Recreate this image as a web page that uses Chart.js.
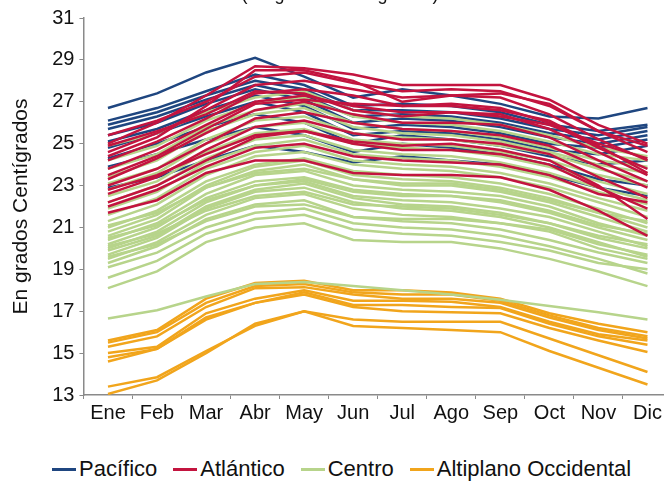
<!DOCTYPE html>
<html>
<head>
<meta charset="utf-8">
<script src="https://cdn.jsdelivr.net/npm/chart.js@4/dist/chart.umd.min.js"></script>
<style>
  html, body { margin: 0; padding: 0; background: #fff; }
  #page { position: relative; width: 664px; height: 482px; overflow: hidden; font-family: "Liberation Sans", Arial, sans-serif; }
  #subtitle { position: absolute; left: 140px; width: 400px; top: -15px; text-align: center; font-size: 18px; line-height: 18px; color: #111; }
  #chart-box { position: absolute; left: 0; top: 0; width: 672px; height: 440px; }
  #legend { position: absolute; left: 52px; top: 456px; display: flex; gap: 16px; font-size: 22px; line-height: 26px; color: #111; }
  #legend .item { display: flex; align-items: center; }
  #legend .swatch { width: 24px; height: 3px; margin-right: 3px; }
</style>
</head>
<body>
<div id="page">
  <div id="chart-box"><canvas id="temp-chart"></canvas></div>
  <div id="subtitle">(En grados Centígrados)</div>
  <div id="legend"></div>
</div>
<script>
const months = ['Ene', 'Feb', 'Mar', 'Abr', 'May', 'Jun', 'Jul', 'Ago', 'Sep', 'Oct', 'Nov', 'Dic'];

// monthly mean temperature per station, grouped by region
const pacifico = [
  [26.7, 27.4, 28.4, 29.1, 28.2, 27.2, 27.6, 27.3, 26.9, 26.3, 26.2, 26.7],
  [26.1, 26.7, 27.5, 28.3, 27.8, 26.8, 26.9, 26.8, 26.5, 25.9, 25.6, 25.9],
  [25.9, 26.5, 27.3, 28.0, 27.6, 26.6, 26.6, 26.5, 26.2, 25.7, 25.4, 25.8],
  [25.7, 26.3, 27.1, 27.8, 27.3, 26.3, 26.4, 26.3, 26.0, 25.5, 25.2, 25.6],
  [25.4, 26.0, 26.9, 27.6, 27.1, 26.0, 26.2, 26.1, 25.8, 25.3, 25.0, 25.4],
  [25.1, 25.7, 26.6, 27.3, 26.8, 25.7, 25.9, 25.8, 25.5, 25.0, 24.8, 25.2],
  [24.8, 25.5, 26.3, 27.0, 26.5, 25.4, 25.6, 25.5, 25.2, 24.7, 24.5, 24.9],
  [24.3, 25.0, 25.8, 26.4, 26.0, 25.0, 25.4, 25.2, 24.9, 24.4, 24.0, 24.2],
  [23.9, 24.5, 25.2, 25.8, 25.4, 24.6, 25.0, 24.8, 24.5, 24.0, 23.3, 23.0],
  [22.9, 23.4, 24.2, 24.9, 24.6, 24.1, 24.4, 24.2, 24.0, 23.5, 22.9, 22.5]
];

const atlantico = [
  [25.0, 26.0, 27.3, 28.7, 28.6, 28.3, 27.8, 27.8, 27.8, 27.1, 25.9, 25.0],
  [25.4, 26.1, 27.0, 28.2, 28.4, 27.9, 27.5, 27.6, 27.5, 26.8, 25.6, 24.6],
  [24.6, 25.5, 26.6, 27.8, 28.0, 27.6, 27.2, 27.3, 27.2, 26.4, 25.2, 24.2],
  [24.2, 25.1, 26.2, 27.4, 27.6, 27.3, 26.8, 26.9, 26.7, 26.0, 24.8, 23.8],
  [23.8, 24.7, 25.9, 27.0, 27.3, 26.8, 26.5, 26.5, 26.4, 25.7, 24.6, 23.5],
  [23.3, 24.3, 25.5, 26.6, 27.0, 26.4, 26.0, 26.0, 25.9, 25.3, 24.2, 23.2],
  [23.0, 23.8, 25.0, 26.2, 26.5, 26.0, 25.7, 25.6, 25.4, 24.9, 23.9, 22.9],
  [22.6, 23.4, 24.7, 25.8, 26.1, 25.5, 25.2, 25.2, 25.0, 24.5, 23.4, 22.4],
  [22.2, 23.0, 24.2, 25.3, 25.6, 25.0, 24.7, 24.7, 24.5, 24.0, 22.9, 21.9],
  [21.7, 22.3, 23.6, 24.2, 24.2, 23.6, 23.5, 23.5, 23.4, 22.8, 21.8, 20.6],
  [24.9, 25.6, 26.4, 27.5, 27.4, 26.6, 26.3, 26.5, 26.3, 25.9, 25.0, 24.3],
  [23.5, 24.4, 25.7, 26.9, 27.1, 26.9, 26.8, 26.8, 26.6, 26.1, 24.9, 23.6],
  [22.8, 23.5, 24.5, 25.4, 25.6, 25.1, 24.9, 25.0, 24.7, 24.2, 23.0, 21.4],
  [22.0, 22.8, 23.9, 24.8, 25.0, 24.4, 24.2, 24.1, 24.0, 23.5, 22.6, 22.2],
  [24.4, 25.3, 26.8, 28.5, 28.5, 28.0, 27.0, 27.3, 27.4, 26.9, 25.6, 24.9]
];

const centro = [
  [18.1, 18.9, 20.3, 21.0, 21.2, 20.4, 20.3, 20.3, 20.0, 19.5, 18.9, 18.2],
  [18.6, 19.4, 20.7, 21.4, 21.6, 20.9, 20.7, 20.6, 20.3, 19.9, 19.3, 19.0],
  [19.1, 19.8, 21.0, 21.7, 21.9, 21.2, 21.0, 20.9, 20.6, 20.1, 19.5, 18.8],
  [19.3, 20.1, 21.4, 22.1, 22.3, 21.5, 21.3, 21.2, 20.9, 20.4, 19.8, 19.3],
  [19.5, 20.3, 21.6, 22.4, 22.6, 21.9, 21.6, 21.5, 21.2, 20.8, 20.0, 19.5],
  [19.6, 20.2, 21.3, 22.0, 22.1, 21.5, 21.4, 21.4, 21.2, 20.9, 20.2, 19.7],
  [19.7, 20.5, 21.9, 22.7, 22.9, 22.2, 21.9, 21.8, 21.5, 21.0, 20.3, 19.6],
  [19.9, 20.6, 22.0, 22.8, 23.1, 22.4, 22.1, 22.0, 21.7, 21.2, 20.5, 20.0],
  [20.0, 20.8, 22.2, 23.0, 23.2, 22.5, 22.3, 22.2, 21.9, 21.5, 20.8, 20.1],
  [20.1, 20.7, 21.8, 22.5, 22.7, 22.1, 22.0, 21.9, 21.6, 21.2, 20.6, 20.2],
  [20.2, 21.0, 22.4, 23.2, 23.4, 22.8, 22.6, 22.5, 22.2, 21.7, 21.0, 20.4],
  [20.4, 21.2, 22.6, 23.5, 23.7, 23.0, 22.8, 22.7, 22.5, 22.0, 21.2, 20.6],
  [20.5, 21.1, 22.3, 23.0, 23.3, 22.7, 22.5, 22.5, 22.3, 21.8, 21.1, 20.7],
  [20.6, 21.4, 22.9, 23.7, 24.0, 23.3, 23.0, 23.0, 22.7, 22.2, 21.5, 20.8],
  [20.8, 21.6, 23.0, 23.9, 24.2, 23.5, 23.3, 23.2, 22.9, 22.4, 21.7, 21.0],
  [21.0, 21.8, 23.2, 24.0, 24.3, 23.7, 23.5, 23.4, 23.1, 22.6, 21.9, 21.2],
  [21.1, 21.7, 22.9, 23.6, 23.8, 23.3, 23.1, 23.1, 22.8, 22.3, 21.7, 21.3],
  [21.3, 22.1, 23.5, 24.4, 24.6, 24.0, 23.8, 23.7, 23.4, 22.9, 22.2, 21.5],
  [21.6, 22.4, 23.8, 24.6, 24.9, 24.2, 24.0, 23.9, 23.6, 23.1, 22.4, 21.8],
  [21.9, 22.7, 24.1, 24.9, 25.2, 24.5, 24.3, 24.2, 23.9, 23.4, 22.7, 22.1],
  [22.2, 23.0, 24.3, 25.2, 25.4, 24.7, 24.5, 24.4, 24.1, 23.6, 22.9, 22.3],
  [22.5, 23.2, 24.6, 25.5, 25.7, 25.0, 24.8, 24.7, 24.4, 23.9, 23.2, 22.6],
  [22.8, 23.6, 25.0, 25.8, 26.0, 25.2, 25.0, 24.9, 24.6, 24.2, 23.5, 23.0],
  [23.1, 23.8, 25.2, 26.1, 26.3, 25.5, 25.3, 25.2, 24.9, 24.5, 23.8, 23.2],
  [23.4, 24.2, 25.6, 26.4, 26.7, 25.8, 25.5, 25.4, 25.1, 24.6, 24.0, 23.6],
  [23.8, 24.5, 25.8, 26.6, 26.9, 26.0, 25.7, 25.6, 25.3, 24.8, 24.2, 23.9],
  [24.2, 24.9, 26.1, 26.9, 27.2, 26.3, 26.0, 25.9, 25.6, 25.1, 24.5, 24.2],
  [24.9, 25.5, 26.5, 27.2, 27.5, 26.6, 26.3, 26.2, 25.9, 25.4, 24.8, 24.4],
  [16.65, 17.05, 17.7, 18.3, 18.4, 18.2, 18.0, 17.8, 17.55, 17.25, 16.95, 16.6]
];

const altiplano = [
  [15.6, 16.1, 17.6, 18.35, 18.45, 18.0, 18.0, 17.9, 17.6, 16.9, 16.4, 16.0],
  [15.5, 16.0, 17.4, 18.2, 18.3, 17.9, 17.8, 17.8, 17.5, 16.8, 16.2, 15.8],
  [15.3, 15.8, 17.2, 18.1, 18.15, 17.8, 17.6, 17.6, 17.4, 16.7, 16.1, 15.7],
  [15.0, 15.3, 16.9, 17.6, 18.0, 17.5, 17.5, 17.45, 17.2, 16.5, 15.9, 15.6],
  [14.8, 15.2, 16.7, 17.4, 17.9, 17.3, 17.3, 17.2, 17.15, 16.4, 15.8, 15.4],
  [14.6, 15.2, 16.6, 17.4, 17.8, 17.2, 17.0, 16.95, 16.9, 16.2, 15.6, 15.05],
  [13.4, 13.85, 15.1, 16.3, 17.0, 16.6, 16.5, 16.5, 16.5, 15.7, 14.9, 14.1],
  [13.05, 13.7, 15.0, 16.4, 17.0, 16.3, 16.2, 16.1, 16.0, 15.1, 14.3, 13.5]
];

const regions = [
  { name: 'Pacífico', color: '#1f4680', rows: pacifico, order: 3 },
  { name: 'Atlántico', color: '#c3143f', rows: atlantico, order: 1 },
  { name: 'Centro', color: '#b7d48b', rows: centro, order: 2 },
  { name: 'Altiplano Occidental', color: '#f1a51c', rows: altiplano, order: 4 }
];

const datasets = [];
regions.forEach(region => {
  region.rows.forEach((row, i) => {
    datasets.push({
      label: region.name + ' ' + (i + 1),
      data: row,
      borderColor: region.color,
      backgroundColor: region.color,
      borderWidth: 2.5,
      pointRadius: 0,
      tension: 0,
      fill: false,
      order: region.order
    });
  });
});

// legend: one entry per region
const legendEl = document.getElementById('legend');
regions.forEach(region => {
  const item = document.createElement('div');
  item.className = 'item';
  const swatch = document.createElement('span');
  swatch.className = 'swatch';
  swatch.style.background = region.color;
  const text = document.createElement('span');
  text.textContent = region.name;
  item.appendChild(swatch);
  item.appendChild(text);
  legendEl.appendChild(item);
});

const fontFamily = '"Liberation Sans", Arial, sans-serif';

new Chart(document.getElementById('temp-chart'), {
  type: 'line',
  data: { labels: months, datasets: datasets },
  options: {
    responsive: true,
    maintainAspectRatio: false,
    animation: false,
    events: [],
    layout: { padding: { top: 18, right: 0, bottom: 13, left: 5 } },
    plugins: {
      legend: { display: false },
      tooltip: { enabled: false }
    },
    scales: {
      x: {
        offset: true,
        grid: { offset: true, drawOnChartArea: false, tickLength: 4, color: '#8a8a8a' },
        border: { color: '#8a8a8a', width: 1.5 },
        ticks: { font: { family: fontFamily, size: 20 }, color: '#111', padding: 2, maxRotation: 0, autoSkip: false }
      },
      y: {
        min: 13,
        max: 31,
        grid: { drawOnChartArea: false, tickLength: 4, color: '#8a8a8a' },
        border: { color: '#8a8a8a', width: 1.5 },
        ticks: { stepSize: 2, font: { family: fontFamily, size: 20 }, color: '#111', padding: 5 },
        title: {
          display: true,
          text: 'En grados Centígrados',
          font: { family: fontFamily, size: 21 },
          color: '#111',
          padding: { top: 4, bottom: 13 }
        }
      }
    }
  }
});
</script>
</body>
</html>
